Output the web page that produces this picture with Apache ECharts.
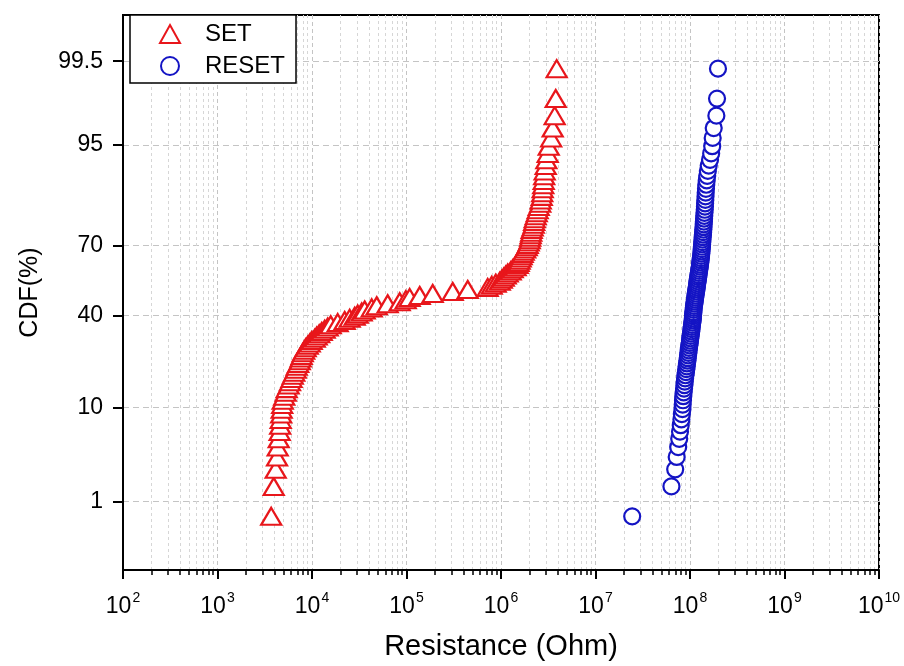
<!DOCTYPE html>
<html>
<head>
<meta charset="utf-8">
<script src="https://cdn.jsdelivr.net/npm/echarts@6/dist/echarts.min.js"></script>
<style>
  html, body { margin: 0; padding: 0; background: #fff; }
  #chart { width: 904px; height: 666px; }
</style>
</head>
<body>
<div id="chart"></div>
<script>
// Measured resistance samples (Ohm), sorted ascending
const setResistance = [
  3700, 3935, 4130, 4266, 4335, 4443, 4550, 4607, 4666, 4721,
  4776, 4838, 4898, 5082, 5272, 5395, 5662, 5848, 6067, 6252,
  6486, 6730, 6887, 7145, 7413, 7586, 7780, 7980, 8260, 8570,
  9016, 9462, 9930, 10690, 11220, 11920, 12680, 13620, 14660, 15780,
  18710, 22180, 25060, 28310, 30470, 33570, 36110, 42850, 48420, 63240,
  84720, 98170, 108100, 138000, 189300, 308300, 444600, 722800, 798000, 879000,
  970000, 1019000, 1069000, 1122000, 1178000, 1266000, 1330000, 1429000, 1500000, 1538000,
  1574000, 1614000, 1652000, 1694000, 1738000, 1803000, 1871000, 1919000, 1963000, 2013000,
  2037000, 2061000, 2089000, 2113000, 2163000, 2218000, 2244000, 2275000, 2328000, 2388000,
  2443000, 2506000, 2600000, 2630000, 2698000, 2729000, 2761000, 2799000, 2831000, 2864000,
  2897000, 2972000, 3020000, 3119000, 3199000, 3396000, 3524000, 3698000, 3793000, 3882000
];

const resetResistance = [
  2.445e7, 6.36e7, 6.97e7, 7.23e7, 7.50e7, 7.69e7, 7.84e7, 7.98e7, 8.11e7, 8.20e7,
  8.32e7, 8.37e7, 8.43e7, 8.49e7, 8.57e7, 8.65e7, 8.73e7, 8.79e7, 8.87e7, 8.95e7,
  9.06e7, 9.14e7, 9.23e7, 9.29e7, 9.40e7, 9.46e7, 9.53e7, 9.62e7, 9.68e7, 9.75e7,
  9.84e7, 9.93e7, 1.000e8, 1.007e8, 1.014e8, 1.023e8, 1.030e8, 1.038e8, 1.042e8, 1.050e8,
  1.057e8, 1.067e8, 1.072e8, 1.076e8, 1.081e8, 1.086e8, 1.091e8, 1.096e8, 1.102e8, 1.112e8,
  1.119e8, 1.127e8, 1.135e8, 1.143e8, 1.151e8, 1.161e8, 1.169e8, 1.178e8, 1.186e8, 1.194e8,
  1.202e8, 1.213e8, 1.222e8, 1.230e8, 1.239e8, 1.247e8, 1.259e8, 1.268e8, 1.276e8, 1.285e8,
  1.294e8, 1.303e8, 1.309e8, 1.318e8, 1.324e8, 1.330e8, 1.337e8, 1.343e8, 1.349e8, 1.355e8,
  1.361e8, 1.371e8, 1.377e8, 1.384e8, 1.390e8, 1.396e8, 1.403e8, 1.409e8, 1.416e8, 1.422e8,
  1.432e8, 1.439e8, 1.445e8, 1.452e8, 1.459e8, 1.466e8, 1.476e8, 1.486e8, 1.503e8, 1.521e8,
  1.545e8, 1.578e8, 1.629e8, 1.675e8, 1.718e8, 1.738e8, 1.782e8, 1.901e8, 1.932e8, 1.977e8
];

// Probability-axis ticks (percent) and displayed range
const cdfTicks = [1, 10, 40, 70, 95, 99.5];
const cdfRange = [0.1, 99.9];

// Decade ticks of the resistance axis (powers of ten)
const decadeExponents = [2, 3, 4, 5, 6, 7, 8, 9, 10];

const FONT = 'Liberation Sans, Arial, sans-serif';
const RED = '#e8161b';
const BLUE = '#1414c4';

// Inverse of the standard normal CDF (Acklam's rational approximation)
function probit(p) {
  const a = [-3.969683028665376e+01, 2.209460984245205e+02, -2.759285104469687e+02,
             1.383577518672690e+02, -3.066479806614716e+01, 2.506628277459239e+00];
  const b = [-5.447609879822406e+01, 1.615858368580409e+02, -1.556989798598866e+02,
             6.680131188771972e+01, -1.328068155288572e+01];
  const c = [-7.784894002430293e-03, -3.223964580411365e-01, -2.400758277161838e+00,
             -2.549732539343734e+00, 4.374664141464968e+00, 2.938163982698783e+00];
  const d = [7.784695709041462e-03, 3.224671290700398e-01, 2.445134137142996e+00,
             3.754408661907416e+00];
  const pl = 0.02425, ph = 1 - pl;
  let q, r;
  if (p < pl) {
    q = Math.sqrt(-2 * Math.log(p));
    return (((((c[0]*q+c[1])*q+c[2])*q+c[3])*q+c[4])*q+c[5]) /
           ((((d[0]*q+d[1])*q+d[2])*q+d[3])*q+1);
  }
  if (p <= ph) {
    q = p - 0.5; r = q * q;
    return (((((a[0]*r+a[1])*r+a[2])*r+a[3])*r+a[4])*r+a[5])*q /
           (((((b[0]*r+b[1])*r+b[2])*r+b[3])*r+b[4])*r+1);
  }
  q = Math.sqrt(-2 * Math.log(1 - p));
  return -(((((c[0]*q+c[1])*q+c[2])*q+c[3])*q+c[4])*q+c[5]) /
          ((((d[0]*q+d[1])*q+d[2])*q+d[3])*q+1);
}

// Empirical CDF of sorted samples (median ranks), plotted on a normal-probability scale
function probabilityPoints(values) {
  const n = values.length;
  return values.map((v, i) => [v, probit((i + 1 - 0.3) / (n + 0.4))]);
}

const tickZ = cdfTicks.map(p => probit(p / 100));
const majorX = decadeExponents.map(e => Math.pow(10, e));
const minorX = [];
decadeExponents.slice(0, -1).forEach(e => {
  for (let m = 2; m <= 9; m++) minorX.push(m * Math.pow(10, e));
});

const chart = echarts.init(document.getElementById('chart'), null, { renderer: 'canvas' });

chart.setOption({
  animation: false,
  backgroundColor: '#fff',
  grid: {
    left: 123, right: 25, top: 15, bottom: 94,
    show: true, borderColor: '#000', borderWidth: 2, backgroundColor: 'transparent'
  },
  legend: {
    orient: 'vertical',
    left: 130, top: 15,
    padding: [7, 11, 5, 29],
    itemGap: 8,
    itemWidth: 20, itemHeight: 18,
    borderColor: '#000', borderWidth: 1.5,
    backgroundColor: '#fff',
    textStyle: { fontFamily: FONT, fontSize: 24, color: '#000', padding: [0, 0, 0, 20] },
    data: ['SET', 'RESET']
  },
  xAxis: [
    {
      type: 'log', logBase: 10, min: 1e2, max: 1e10,
      position: 'bottom',
      name: 'Resistance (Ohm)', nameLocation: 'middle', nameGap: 62,
      nameTextStyle: { fontFamily: FONT, fontSize: 29, color: '#000' },
      axisLine: { onZero: false, lineStyle: { color: '#000', width: 2 } },
      axisTick: { customValues: majorX, length: 9, lineStyle: { color: '#000', width: 2 } },
      axisLabel: {
        customValues: majorX, margin: 21,
        fontFamily: FONT, fontSize: 23, color: '#000',
        formatter: v => '{b|10}{sup|' + Math.round(Math.log10(v)) + '}',
        rich: {
          b: { fontFamily: FONT, fontSize: 23, color: '#000', lineHeight: 27, verticalAlign: 'bottom' },
          sup: { fontFamily: FONT, fontSize: 14, color: '#000', verticalAlign: 'top', padding: [0, 0, 0, 1] }
        }
      },
      splitLine: { show: true, lineStyle: { color: '#c4c4c4', type: [4, 3], width: 1 } }
    },
    {
      type: 'log', logBase: 10, min: 1e2, max: 1e10,
      position: 'bottom',
      axisLine: { show: false, onZero: false },
      axisTick: { customValues: minorX, length: 5, lineStyle: { color: '#000', width: 1.5 } },
      axisLabel: { show: false },
      splitLine: { show: true, lineStyle: { color: '#d6d6d6', type: [3, 3], width: 1 } }
    }
  ],
  yAxis: {
    type: 'value',
    min: probit(cdfRange[0] / 100), max: probit(cdfRange[1] / 100),
    name: 'CDF(%)', nameLocation: 'middle', nameGap: 80,
    nameTextStyle: { fontFamily: FONT, fontSize: 25, color: '#000' },
    axisLine: { onZero: false, lineStyle: { color: '#000', width: 2 } },
    axisTick: { customValues: tickZ, length: 10, lineStyle: { color: '#000', width: 2 } },
    axisLabel: {
      customValues: tickZ, margin: 20,
      fontFamily: FONT, fontSize: 23, color: '#000',
      formatter: v => {
        let best = 0;
        tickZ.forEach((z, i) => { if (Math.abs(z - v) < Math.abs(tickZ[best] - v)) best = i; });
        return String(cdfTicks[best]);
      }
    },
    splitLine: { show: true, lineStyle: { color: '#c4c4c4', type: [6, 4], width: 1 } }
  },
  series: [
    {
      name: 'SET', type: 'scatter', xAxisIndex: 0,
      symbol: 'triangle', symbolSize: [20, 17],
      itemStyle: { color: '#fff', borderColor: RED, borderWidth: 2.2, opacity: 1 },
      data: probabilityPoints(setResistance)
    },
    {
      name: 'RESET', type: 'scatter', xAxisIndex: 0,
      symbol: 'circle', symbolSize: 16,
      itemStyle: { color: '#fff', borderColor: BLUE, borderWidth: 2.2, opacity: 1 },
      data: probabilityPoints(resetResistance)
    }
  ]
});
</script>
</body>
</html>
